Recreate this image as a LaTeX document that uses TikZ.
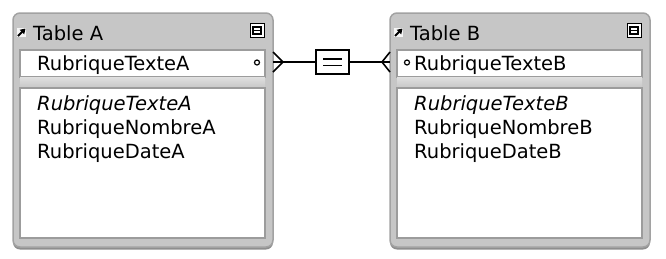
\documentclass[tikz,border=0pt]{standalone}
\usepackage{fontspec}
\setmainfont{DejaVu Sans}
\usetikzlibrary{positioning,shadows,arrows.meta}

\definecolor{framegray}{HTML}{C6C6C6}
\definecolor{edgegray}{HTML}{A2A2A2}
\definecolor{shadowgray}{HTML}{8E8E8E}
\definecolor{wellgray}{HTML}{9C9C9C}

\tikzset{
  tablebox/.style={draw=edgegray, line width=1.5pt, fill=framegray, rounded corners=7pt,
    minimum width=260pt, minimum height=234pt, inner sep=0pt, outer sep=0pt,
    drop shadow={shadow xshift=0pt, shadow yshift=-2.5pt, fill=shadowgray, opacity=1}},
  well/.style={draw=wellgray, line width=1.2pt, fill=white, minimum width=245pt, inner sep=0pt, outer sep=0pt},
  title/.style={anchor=base west, inner sep=0pt, font=\fontsize{19.5}{23}\selectfont},
  item/.style={anchor=base west, inner sep=0pt},
  dot/.style={circle, draw, line width=1.2pt, minimum size=5pt, inner sep=0pt},
  btnbox/.style={draw, fill=white, line width=0.9pt, minimum size=14pt, inner sep=0pt},
  iconbox/.style={fill=white!85!framegray, minimum size=9pt, inner sep=0pt},
  relbox/.style={draw, fill=white, line width=1.6pt, minimum width=33pt, minimum height=24pt, inner sep=0pt},
  link/.style={line width=1.6pt}
}

\begin{document}
\begin{tikzpicture}[x=1pt, y=-1pt, font=\fontsize{19.5}{23}\selectfont]
  \useasboundingbox (0,0) rectangle (666,258);

  % the two tables
  \foreach \t/\dx/\cx in {A/0/257, B/377/30} {
    \begin{scope}[xshift=\dx pt]
      \node[tablebox] (frame\t) at (143,130) {};
      \node[well, minimum height=27pt] (field\t) at (142.5,63.5) {};
      \shade[top color=framegray!55!white, bottom color=framegray]
        (field\t.south west) rectangle ([yshift=-1pt]field\t.south east |- 0,87);
      \node[well, minimum height=150pt] (list\t) at (142.5,163) {};

      \node[iconbox] (icon\t) at (21.5,32.5) {};
      \draw[line width=2pt, -{Triangle[length=5pt,width=6pt]}]
        ([xshift=-3.5pt,yshift=-3.5pt]icon\t.center) -- ([xshift=4pt,yshift=4pt]icon\t.center);
      \node[title] (title\t) at (33,40) {Table \t};
      \node[btnbox] (btn\t) at (257,30.5) {};
      \draw[line width=1.8pt] ([xshift=-4pt,yshift=3.5pt]btn\t.center) rectangle ([xshift=4pt,yshift=-3.5pt]btn\t.center);
      \draw[line width=1.8pt] ([xshift=-4pt]btn\t.center) -- ([xshift=4pt]btn\t.center);

      \node[item] (key\t) at (37,70) {RubriqueTexte\t};
      \node[dot] (dot\t) at (\cx,62.5) {};
      \node[item] (texte\t) at (37,110.5) {\itshape RubriqueTexte\t};
      \node[item] (nombre\t) at (37,134.5) {RubriqueNombre\t};
      \node[item] (date\t) at (37,158.5) {RubriqueDate\t};
    \end{scope}
  }

  % relationship
  \coordinate (footA) at (283,62);
  \coordinate (footB) at (382,62);
  \node[relbox] (rel) at (332.5,62) {};
  \draw[link] (frameA.east |- footA) -- (rel);
  \draw[link] (rel) -- (frameB.west |- footB);
  \draw[link] (footA) -- ++(-10,-10) (footA) -- ++(-10,10);
  \draw[link] (footB) -- ++(8,-10) (footB) -- ++(8,10);
  \draw[link] ([xshift=-9.5pt,yshift=3.3pt]rel.center) -- ([xshift=9.5pt,yshift=3.3pt]rel.center);
  \draw[link] ([xshift=-9.5pt,yshift=-3.3pt]rel.center) -- ([xshift=9.5pt,yshift=-3.3pt]rel.center);
\end{tikzpicture}
\end{document}
